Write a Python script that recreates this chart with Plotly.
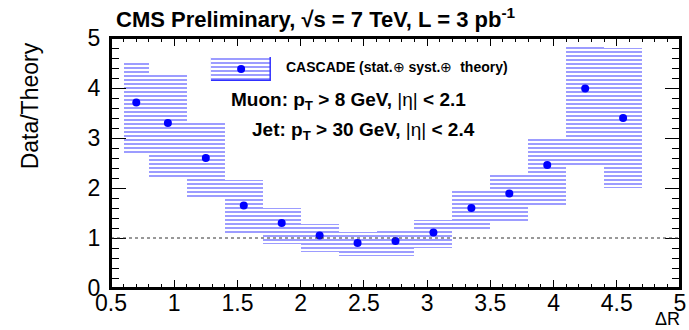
import plotly.graph_objects as go

# ---- data ----
dr_center = [0.7, 0.95, 1.25, 1.55, 1.85, 2.15, 2.45, 2.75, 3.05, 3.35, 3.65, 3.95, 4.25, 4.55]
dr_width = [0.2, 0.3, 0.3, 0.3, 0.3, 0.3, 0.3, 0.3, 0.3, 0.3, 0.3, 0.3, 0.3, 0.3]
ratio = [3.71, 3.30, 2.60, 1.65, 1.30, 1.05, 0.90, 0.94, 1.11, 1.60, 1.89, 2.46, 3.99, 3.40]
band_low = [2.66, 2.23, 1.78, 1.11, 0.88, 0.72, 0.65, 0.64, 0.80, 1.19, 1.35, 1.62, 2.42, 2.00]
band_high = [4.51, 4.27, 3.31, 2.17, 1.60, 1.29, 1.13, 1.14, 1.36, 1.95, 2.27, 2.99, 4.85, 4.80]

x_range = [0.5, 5]
y_range = [0, 5]

title_text = "<b>CMS Preliminary, \u221As = 7 TeV, L = 3 pb<sup>-1</sup></b>"
ytitle = "Data/Theory"
xtitle = "\u0394R"
legend_text = "<b>CASCADE (stat.</b>\u2295<b> syst.</b>\u2295<b>\u00a0 theory)</b>"
muon_text = "<b>Muon: p<sub>T</sub> > 8 GeV, </b>|\u03b7|<b> < 2.1</b>"
jet_text = "<b>Jet: p<sub>T</sub> > 30 GeV, </b>|\u03b7|<b> < 2.4</b>"

W, H = 689, 330
L, R, T, B = 111, 3, 38, 42
PW, PH = W - L - R, H - T - B


def px(x):
    return (x - L) / PW


def py(y):
    return (H - B - y) / PH


FONT = "Liberation Sans, Arial, Helvetica, sans-serif"
HATCH = "rgba(70,70,255,0.6)"

fig = go.Figure()

fig.add_trace(go.Bar(
    x=dr_center,
    width=dr_width,
    base=band_low,
    y=[h - l for h, l in zip(band_high, band_low)],
    marker=dict(color="rgba(0,0,0,0)",
                pattern=dict(shape="-", fgcolor=HATCH, bgcolor="rgba(0,0,0,0)",
                             size=4, solidity=0.45, fillmode="replace"),
                line=dict(width=0)),
    showlegend=False, hoverinfo="skip",
))

fig.add_trace(go.Scatter(
    x=dr_center, y=ratio, mode="markers",
    marker=dict(color="#0000ff", size=8, line=dict(width=0)),
    showlegend=False,
))

# legend drawn in a small inset axes
fig.add_trace(go.Bar(
    x=[0.5], y=[1], base=[0], width=[1], xaxis="x2", yaxis="y2",
    marker=dict(color="rgba(0,0,0,0)",
                pattern=dict(shape="-", fgcolor=HATCH, bgcolor="rgba(0,0,0,0)",
                             size=4, solidity=0.45, fillmode="replace"),
                line=dict(width=1.5, color="#3030ff")),
    showlegend=False, hoverinfo="skip",
))
fig.add_trace(go.Scatter(
    x=[0.5], y=[0.5], xaxis="x2", yaxis="y2", mode="markers",
    marker=dict(color="#0000ff", size=8), showlegend=False,
))

fig.add_shape(type="line", xref="paper", yref="y", x0=0, x1=1, y0=1, y1=1,
              line=dict(color="#333333", width=1, dash="dot"), layer="above")
# frame
fig.add_shape(type="rect", xref="paper", yref="paper", x0=0, x1=1, y0=0, y1=1,
              line=dict(color="black", width=2), fillcolor="rgba(0,0,0,0)", layer="above")

fig.update_layout(
    width=W, height=H,
    margin=dict(l=L, r=R, t=T, b=B, pad=0),
    paper_bgcolor="white", plot_bgcolor="white",
    barmode="overlay", bargap=0,
    showlegend=False,
    xaxis=dict(range=x_range, tickmode="linear", tick0=0.5, dtick=0.5,
               ticks="inside", ticklen=8, tickwidth=1, tickcolor="black",
               minor=dict(ticks="inside", dtick=0.1, ticklen=4, tickcolor="black", tickwidth=1),
               mirror="ticks", showline=True, linecolor="black", linewidth=2,
               showgrid=False, zeroline=False, ticklabeloverflow="allow",
               ticklabelstandoff=-7,
               tickfont=dict(family=FONT, size=23, color="black")),
    yaxis=dict(range=y_range, tickmode="linear", tick0=0, dtick=1,
               ticks="inside", ticklen=15, tickwidth=1, tickcolor="black",
               minor=dict(ticks="inside", dtick=0.2, ticklen=8, tickcolor="black", tickwidth=1),
               mirror="ticks", showline=True, linecolor="black", linewidth=2,
               showgrid=False, zeroline=False, ticklabelstandoff=4,
               tickfont=dict(family=FONT, size=23, color="black")),
    xaxis2=dict(domain=[px(212), px(273)], range=[0, 1], anchor="y2", visible=False, fixedrange=True),
    yaxis2=dict(domain=[py(81), py(57)], range=[0, 1], anchor="x2", visible=False, fixedrange=True),
)

ann = dict(xref="paper", yref="paper", showarrow=False)
fig.add_annotation(text=title_text, x=px(114), y=py(18), xanchor="left", yanchor="middle",
                   font=dict(family=FONT, size=22, color="black"), **ann)
fig.add_annotation(text=ytitle, x=px(29), y=py(40), xanchor="center", yanchor="top", textangle=-90,
                   font=dict(family=FONT, size=23, color="black"), **ann)
fig.add_annotation(text=xtitle, x=px(688), y=py(319), xanchor="right", yanchor="middle",
                   font=dict(family=FONT, size=18, color="black"), **ann)
fig.add_annotation(text=legend_text, x=px(286), y=py(67), xanchor="left", yanchor="middle",
                   font=dict(family=FONT, size=14, color="black"), **ann)
fig.add_annotation(text=muon_text, x=px(230), y=py(101), xanchor="left", yanchor="middle",
                   font=dict(family=FONT, size=19, color="black"), **ann)
fig.add_annotation(text=jet_text, x=px(251), y=py(131), xanchor="left", yanchor="middle",
                   font=dict(family=FONT, size=19, color="black"), **ann)

fig.write_html("out.html")
